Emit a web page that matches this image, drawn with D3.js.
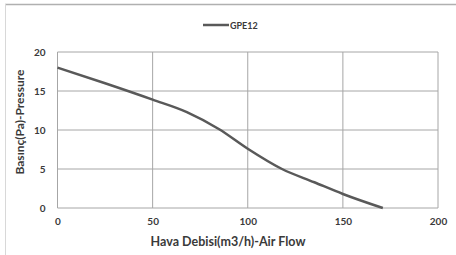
<!DOCTYPE html>
<html>
<head>
<meta charset="utf-8">
<script src="https://cdn.jsdelivr.net/npm/d3@7"></script>
<style>
  body { margin: 0; background: #fff; }
  text { font-family: Lato, "Open Sans", sans-serif; font-weight: bold; fill: #3a3a3a; }
</style>
</head>
<body>
<svg id="chart"></svg>
<script>
// curve
const seriesName = "GPE12";
const airFlow = [0, 25, 50, 68, 85, 100, 118, 135, 150, 171];
const pressure = [18, 16, 13.9, 12.3, 10.1, 7.6, 5, 3.3, 1.8, 0];
const xTicks = [0, 50, 100, 150, 200];
const yTicks = [0, 5, 10, 15, 20];

const width = 456, height = 255;
const margin = {top: 52, right: 18, bottom: 47, left: 57.5};
const w = width - margin.left - margin.right;
const h = height - margin.top - margin.bottom;

const svg = d3.select("#chart").attr("width", width).attr("height", height);

// outer frame (only top and left show)
svg.append("line").attr("x1", 5).attr("x2", width).attr("y1", 4.5).attr("y2", 4.5)
    .attr("stroke", "#b0b0b0").attr("stroke-width", 1.5);
svg.append("line").attr("x1", 5.5).attr("x2", 5.5).attr("y1", 4).attr("y2", height)
    .attr("stroke", "#d8d8d8").attr("stroke-width", 1);

const x = d3.scaleLinear().domain([0, 200]).range([0, w]);
const y = d3.scaleLinear().domain([0, 20]).range([h, 0]);

const g = svg.append("g").attr("transform", "translate(" + margin.left + "," + margin.top + ")");

// grid
g.selectAll(".vgrid").data(xTicks).enter().append("line")
    .attr("x1", d => x(d)).attr("x2", d => x(d)).attr("y1", 0).attr("y2", h)
    .attr("stroke", "#a6a6a6").attr("stroke-width", 1);
g.selectAll(".hgrid").data(yTicks).enter().append("line")
    .attr("x1", 0).attr("x2", w).attr("y1", d => y(d)).attr("y2", d => y(d))
    .attr("stroke", "#a6a6a6").attr("stroke-width", 1);

// axes labels
const xAxis = d3.axisBottom(x).tickValues(xTicks).tickSize(0).tickPadding(10);
g.append("g").attr("transform", "translate(0," + h + ")").call(xAxis)
    .call(s => s.select(".domain").remove())
    .selectAll("text").style("font-size", "10px");

const yAxis = d3.axisLeft(y).tickValues(yTicks).tickSize(0).tickPadding(12);
g.append("g").call(yAxis)
    .call(s => s.select(".domain").remove())
    .selectAll("text").style("font-size", "10px");

// curve
const pts = airFlow.map((d, i) => [d, pressure[i]]);
g.append("path").datum(pts)
    .attr("fill", "none").attr("stroke", "#595959").attr("stroke-width", 2.5)
    .attr("d", d3.line().x(d => x(d[0])).y(d => y(d[1])).curve(d3.curveMonotoneX));

// axis titles
svg.append("text").attr("x", 228).attr("y", 246).attr("text-anchor", "middle")
    .style("font-size", "12.5px").text("Hava Debisi(m3/h)-Air Flow");
svg.append("text").attr("transform", "translate(24,122) rotate(-90)").attr("text-anchor", "middle")
    .style("font-size", "12px").text("Basınç(Pa)-Pressure");

// legend
svg.append("line").attr("x1", 203).attr("x2", 229).attr("y1", 25).attr("y2", 25)
    .attr("stroke", "#595959").attr("stroke-width", 2.5);
svg.append("text").attr("x", 230).attr("y", 28.5).style("font-size", "9px").text(seriesName);
</script>
</body>
</html>
